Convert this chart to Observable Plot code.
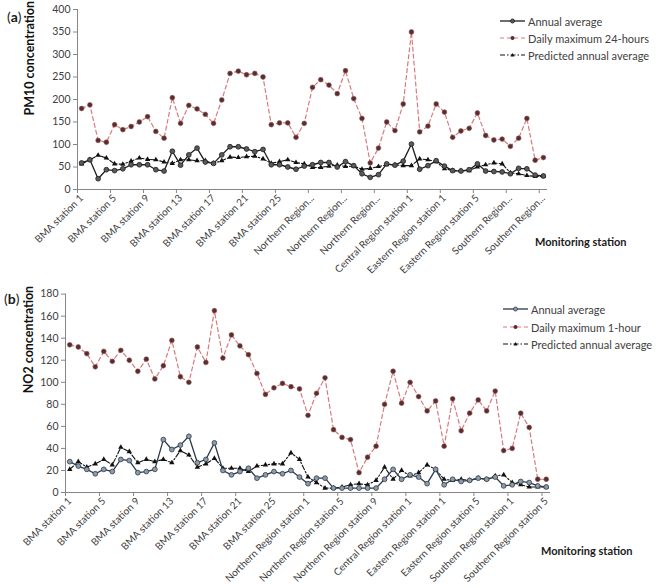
<!DOCTYPE html>
<html><head><meta charset="utf-8">
<script src="https://cdn.jsdelivr.net/npm/d3@7"></script>
<script src="https://cdn.jsdelivr.net/npm/@observablehq/plot@0.6"></script>
<style>
body{margin:0;background:#fff;font-family:Lato,"Open Sans",sans-serif;}
#wrap{position:relative;width:658px;height:588px;overflow:hidden;background:#fff;}
.pl{position:absolute;left:0;}
.lbl{position:absolute;white-space:nowrap;color:#1a1a1a;line-height:1;}
.leg{position:absolute;font-size:11px;color:#404040;white-space:nowrap;display:flex;align-items:center;height:14px;}
.leg svg{margin-right:3px;}
</style></head><body><div id="wrap"></div>
<script>
// ---- data ----
const stations = [
  "BMA station 1","BMA station 2","BMA station 3","BMA station 4","BMA station 5","BMA station 6","BMA station 7",
  "BMA station 8","BMA station 9","BMA station 10","BMA station 11","BMA station 12","BMA station 13","BMA station 14",
  "BMA station 15","BMA station 16","BMA station 17","BMA station 18","BMA station 19","BMA station 20","BMA station 21",
  "BMA station 22","BMA station 23","BMA station 24","BMA station 25","BMA station 26","BMA station 27","BMA station 28",
  "Northern Region station 1","Northern Region station 2","Northern Region station 3","Northern Region station 4",
  "Northern Region station 5","Northern Region station 6","Northern Region station 7","Northern Region station 8",
  "Northern Region station 9","Northern Region station 10","Northern Region station 11","Northern Region station 12",
  "Central Region station 1","Central Region station 2","Central Region station 3","Central Region station 4",
  "Eastern Region station 1","Eastern Region station 2","Eastern Region station 3","Eastern Region station 4",
  "Eastern Region station 5","Eastern Region station 6","Eastern Region station 7","Eastern Region station 8",
  "Southern Region station 1","Southern Region station 2","Southern Region station 3","Southern Region station 4",
  "Southern Region station 5"
];
const tickLabelsA = ["BMA station 1","BMA station 5","BMA station 9","BMA station 13","BMA station 17","BMA station 21",
  "BMA station 25","Northern Region...","Northern Region...","Northern Region...","Central Region station 1",
  "Eastern Region station 1","Eastern Region station 5","Southern Region...","Southern Region..."];
const tickLabelsB = ["BMA station 1","BMA station 5","BMA station 9","BMA station 13","BMA station 17","BMA station 21",
  "BMA station 25","Northern Region station 1","Northern Region station 5","Northern Region station 9",
  "Central Region station 1","Eastern Region station 1","Eastern Region station 5","Southern Region station 1",
  "Southern Region station 5"];
const yTicksA = [0,50,100,150,200,250,300,350,400];
const yTicksB = [0,20,40,60,80,100,120,140,160,180];

const pm10Annual = [59,66,24,44,42,46,55,55,55,44,41,85,54,77,92,61,58,77,95,95,90,84,89,55,55,50,45,52,
  55,60,60,50,62,53,35,27,33,57,54,63,101,45,53,64,52,42,41,44,57,41,40,39,35,47,46,32,30];
const pm10Daily = [180,188,109,105,144,133,140,150,162,129,114,204,147,187,179,167,147,199,258,263,255,258,250,144,148,148,116,147,
  227,244,232,213,264,202,158,59,92,150,131,190,350,128,141,190,172,116,130,136,170,120,110,112,96,114,158,65,71];
const pm10Pred = [57,66,76,70,57,56,63,70,67,66,61,58,66,66,64,64,58,64,72,71,73,74,68,58,62,66,60,57,
  49,49,52,54,51,52,45,47,51,55,55,53,53,68,66,62,46,42,42,42,50,55,59,57,37,35,31,29,29];

const no2Annual = [28,24,21,17,21,19,30,29,18,19,21,48,39,43,51,27,30,45,20,16,19,22,13,16,19,17,20,14,8,13,13,
  4,4,4,4,4,4,12,21,12,16,14,8,21,7,12,10,11,13,12,14,6,7,10,9,6,5];
const no2Daily = [134,132,126,114,128,119,129,120,110,121,103,115,138,105,100,132,118,165,122,143,133,125,108,89,95,99,96,94,70,90,104,
  57,50,48,18,32,42,80,110,81,100,87,74,83,42,85,56,72,84,74,92,38,40,72,59,12,12];
const no2Pred = [21,28,23,26,30,25,41,37,27,30,28,30,27,38,34,23,26,31,22,22,22,19,24,25,26,26,36,30,14,9,4,
  4,5,7,8,7,11,23,12,20,15,18,25,21,12,11,12,11,13,12,15,16,9,7,5,5,5];

const seriesA = ["Annual average","Daily maximum 24-hours","Predicted annual average"];
const seriesB = ["Annual average","Daily maximum 1-hour","Predicted annual average"];

// ---- drawing ----
const AX = "#868686", TXT = "#404040", RED = "#d9797c", REDDOT = "#5a2c2e";

function panel(o) {
  const rows = stations.map((s, i) => ({i, annual: o.annual[i], daily: o.daily[i], pred: o.pred[i]}));
  const labelIdx = o.tickLabels.map((_, k) => k * 4);
  const bounds = labelIdx.map(k => k - 0.5);
  return Plot.plot({
    width: 658, height: o.height,
    marginTop: o.mt, marginBottom: o.mb, marginLeft: o.ml, marginRight: o.mr,
    style: {fontFamily: "Lato, 'Open Sans', sans-serif", background: "transparent", overflow: "visible"},
    x: {domain: [-0.5, stations.length - 0.5], axis: null},
    y: {domain: [0, o.yTicks[o.yTicks.length - 1]], axis: null},
    marks: [
      Plot.axisY({ticks: o.yTicks, tickSize: 4, tickPadding: 3, stroke: AX, fill: TXT, fontSize: 10.5, label: null}),
      Plot.axisX({ticks: bounds, tickSize: 4, tickFormat: () => "", stroke: AX, label: null}),
      Plot.axisX({ticks: labelIdx, tickSize: 0, tickPadding: 7, tickRotate: -45, fontSize: 10, fill: TXT,
        tickFormat: d => o.tickLabels[Math.round(d / 4)], label: null}),
      Plot.ruleX([-0.5], {stroke: AX}),
      Plot.ruleY([0], {stroke: AX}),
      Plot.text([o.title], {frameAnchor: "left", rotate: -90, dx: o.tdx, dy: o.tdy, fontWeight: "bold", fontSize: 12.5, fill: "#111"}),
      Plot.line(rows, {x: "i", y: "daily", stroke: RED, strokeWidth: 1.2, strokeDasharray: "4,3"}),
      Plot.dot(rows, {x: "i", y: "daily", r: 2.4, fill: REDDOT, stroke: "#8a5556", strokeWidth: 0.6}),
      Plot.line(rows, {x: "i", y: "pred", stroke: "#111", strokeWidth: 1.1, strokeDasharray: "5,2,1.5,2"}),
      Plot.dot(rows, {x: "i", y: "pred", symbol: "triangle", r: 2, fill: "#111", stroke: "none"}),
      Plot.line(rows, {x: "i", y: "annual", stroke: o.annColor, strokeWidth: 1.3}),
      Plot.dot(rows, {x: "i", y: "annual", r: 2.4, fill: o.annFill, stroke: o.annColor, strokeWidth: 0.8})
    ]
  });
}

const wrap = document.getElementById("wrap");
function place(el, top) { el.classList.add("pl"); el.style.top = top + "px"; wrap.appendChild(el); }

place(panel({annual: pm10Annual, daily: pm10Daily, pred: pm10Pred, yTicks: yTicksA, tickLabels: tickLabelsA,
  title: "PM10 concentration", height: 280, mt: 9, mb: 91, ml: 77, mr: 111, tdx: -48, tdy: 16,
  annColor: "#1e1e1e", annFill: "#5a5a5a"}), 0);
place(panel({annual: no2Annual, daily: no2Daily, pred: no2Pred, yTicks: yTicksB, tickLabels: tickLabelsB,
  title: "NO2 concentration", height: 308, mt: 13.6, mb: 96, ml: 65, mr: 108, tdx: -37, tdy: 0,
  annColor: "#2c3a48", annFill: "#8e9bab"}), 280);

function sample(kind, annColor, annFill) {
  const ns = "http://www.w3.org/2000/svg";
  const svg = document.createElementNS(ns, "svg");
  svg.setAttribute("width", 25); svg.setAttribute("height", 10);
  const line = document.createElementNS(ns, "line");
  line.setAttribute("x1", 0); line.setAttribute("x2", 25); line.setAttribute("y1", 5); line.setAttribute("y2", 5);
  let mk;
  if (kind === 0) {
    line.setAttribute("stroke", annColor); line.setAttribute("stroke-width", 1.3);
    mk = document.createElementNS(ns, "circle"); mk.setAttribute("cx", 12.5); mk.setAttribute("cy", 5); mk.setAttribute("r", 2);
    mk.setAttribute("fill", annFill); mk.setAttribute("stroke", annColor); mk.setAttribute("stroke-width", 0.8);
  } else if (kind === 1) {
    line.setAttribute("stroke", RED); line.setAttribute("stroke-width", 1.2); line.setAttribute("stroke-dasharray", "4,3");
    mk = document.createElementNS(ns, "circle"); mk.setAttribute("cx", 12.5); mk.setAttribute("cy", 5); mk.setAttribute("r", 2);
    mk.setAttribute("fill", REDDOT);
  } else {
    line.setAttribute("stroke", "#111"); line.setAttribute("stroke-width", 1.1); line.setAttribute("stroke-dasharray", "5,2,1.5,2");
    mk = document.createElementNS(ns, "path"); mk.setAttribute("d", "M12.5,3 L14.5,6.5 L10.5,6.5 Z"); mk.setAttribute("fill", "#111");
  }
  svg.appendChild(line); svg.appendChild(mk);
  return svg;
}
function legend(names, left, tops, annColor, annFill) {
  names.forEach((n, k) => {
    const d = document.createElement("div");
    d.className = "leg"; d.style.left = left + "px"; d.style.top = (tops[k] - 7) + "px";
    d.appendChild(sample(k, annColor, annFill));
    d.appendChild(document.createTextNode(n));
    wrap.appendChild(d);
  });
}
legend(seriesA, 500, [21, 38, 55], "#1e1e1e", "#5a5a5a");
legend(seriesB, 503, [309, 327, 344], "#2c3a48", "#8e9bab");

function label(html, left, cy, size, weight) {
  const d = document.createElement("div");
  d.className = "lbl"; d.innerHTML = html;
  d.style.left = left + "px"; d.style.top = (cy - size / 2) + "px";
  d.style.fontSize = size + "px"; if (weight) d.style.fontWeight = weight;
  wrap.appendChild(d);
}
label("(<b>a</b>)", 7, 17, 14);
label("(<b>b</b>)", 4, 299, 14);
label("Monitoring station", 535, 241, 11, "bold");
label("Monitoring station", 541, 550, 11, "bold");
</script></body></html>
